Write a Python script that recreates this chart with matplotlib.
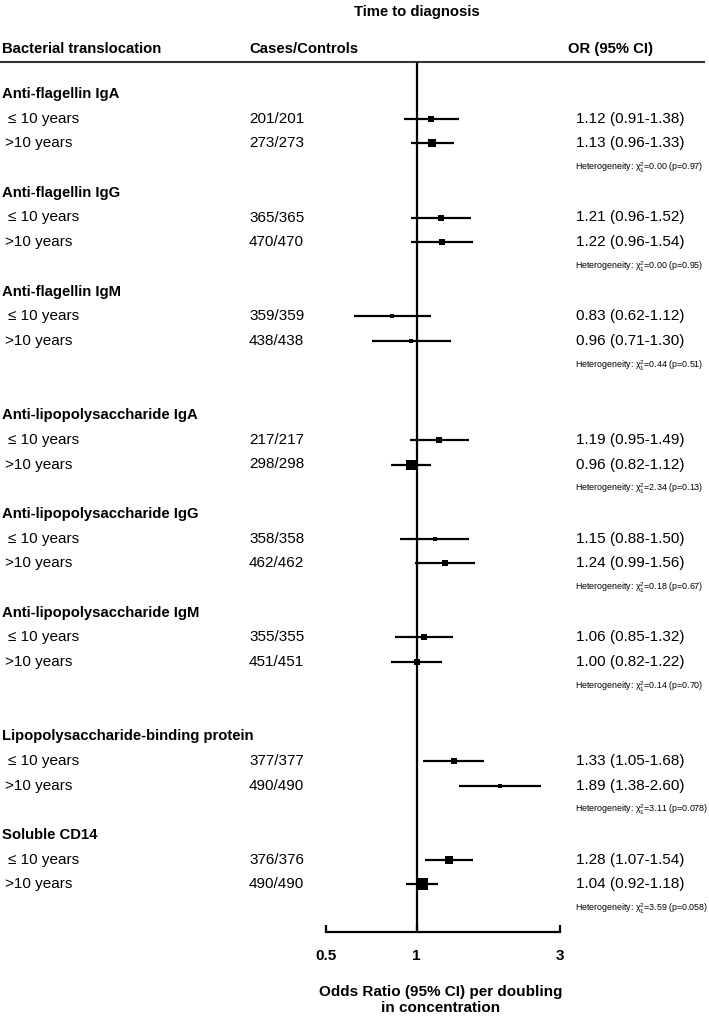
import numpy as np
import matplotlib
matplotlib.use("Agg")
import matplotlib.pyplot as plt

plt.rcParams['font.family'] = ['Liberation Sans', 'DejaVu Sans']
plt.rcParams['mathtext.fontset'] = 'custom'
plt.rcParams['mathtext.rm'] = 'Liberation Sans'
plt.rcParams['mathtext.it'] = 'Liberation Sans:italic'

# ---------------- data ----------------
groups = ["Anti-flagellin IgA", "Anti-flagellin IgG", "Anti-flagellin IgM",
          "Anti-lipopolysaccharide IgA", "Anti-lipopolysaccharide IgG",
          "Anti-lipopolysaccharide IgM", "Lipopolysaccharide-binding protein",
          "Soluble CD14"]
sub_labels = ["\u2264 10 years", ">10 years"]
cases_le10 = ["201/201", "365/365", "359/359", "217/217", "358/358", "355/355", "377/377", "376/376"]
cases_gt10 = ["273/273", "470/470", "438/438", "298/298", "462/462", "451/451", "490/490", "490/490"]
or_le10 = [1.12, 1.21, 0.83, 1.19, 1.15, 1.06, 1.33, 1.28]
lo_le10 = [0.91, 0.96, 0.62, 0.95, 0.88, 0.85, 1.05, 1.07]
hi_le10 = [1.38, 1.52, 1.12, 1.49, 1.50, 1.32, 1.68, 1.54]
or_gt10 = [1.13, 1.22, 0.96, 0.96, 1.24, 1.00, 1.89, 1.04]
lo_gt10 = [0.96, 0.96, 0.71, 0.82, 0.99, 0.82, 1.38, 0.92]
hi_gt10 = [1.33, 1.54, 1.30, 1.12, 1.56, 1.22, 2.60, 1.18]
chi2 = ["0.00", "0.00", "0.44", "2.34", "0.18", "0.14", "3.11", "3.59"]
pvals = ["0.97", "0.95", "0.51", "0.13", "0.67", "0.70", "0.078", "0.058"]
x_ticks = [0.5, 1, 3]
x_ticklabels = ["0.5", "1", "3"]

# ---------------- layout ----------------
W, H = 709, 1019
PITCH = 24.7      # px per row
Y0 = 94.0         # px of first row
gap_after = {2, 5}

def px2row(py):
    return (py - Y0) / PITCH

# row indices for group starts
starts = []
r = 0
for i in range(len(groups)):
    starts.append(r)
    r += 4
    if i in gap_after:
        r += 1

fig = plt.figure(figsize=(W / 100, H / 100), dpi=100)
tx = fig.add_axes([0, 0, 1, 1])
tx.set_xlim(0, W)
tx.set_ylim(px2row(H), px2row(0))
tx.axis('off')

AX_L, AX_R, AX_T, AX_B = 326, 560, 62, 932
fa = fig.add_axes([AX_L / W, 1 - AX_B / H, (AX_R - AX_L) / W, (AX_B - AX_T) / H])
fa.set_xscale('log')
fa.set_xlim(0.5, 3)
fa.set_ylim(px2row(AX_B), px2row(AX_T))
fa.patch.set_alpha(0)
for s in ['top', 'left', 'right']:
    fa.spines[s].set_visible(False)
fa.spines['bottom'].set_linewidth(1.6)
fa.set_yticks([])
fa.set_xticks(x_ticks)
fa.set_xticklabels(x_ticklabels, fontsize=11, fontweight='bold')
fa.xaxis.set_minor_locator(matplotlib.ticker.NullLocator())
fa.tick_params(axis='x', direction='in', length=5, width=1.6, pad=12)
fa.axvline(1, color='black', lw=1.6, zorder=1)

# header
BOLD = dict(fontsize=10.7, fontweight='bold', va='center')
REG = dict(fontsize=11, va='center')
tx.text(416.7, px2row(12), "Time to diagnosis", ha='center', **BOLD)
tx.text(2, px2row(49), "Bacterial translocation", ha='left', **BOLD)
tx.text(249, px2row(49), "Cases/Controls", ha='left', **BOLD)
tx.text(568, px2row(49), "OR (95% CI)", ha='left', **BOLD)
tx.plot([0, 705], [px2row(62)] * 2, color='#333333', lw=1.5, solid_capstyle='butt')

def box_size(lo, hi):
    w = np.log(hi / lo)
    return 2.11 / w ** 1.25 * 0.72  # points

for i, g in enumerate(groups):
    r0 = starts[i]
    tx.text(2, r0, g, ha='left', **BOLD)
    rows = [r0 + 1, r0 + 2]
    ors = [or_le10[i], or_gt10[i]]
    los = [lo_le10[i], lo_gt10[i]]
    his = [hi_le10[i], hi_gt10[i]]
    cs = [cases_le10[i], cases_gt10[i]]
    for k in range(2):
        tx.text(8 if k == 0 else 5, rows[k], sub_labels[k], ha='left', **REG)
        tx.text(249, rows[k], cs[k], ha='left', **REG)
        tx.text(576, rows[k], f"{ors[k]:.2f} ({los[k]:.2f}-{his[k]:.2f})", ha='left', **REG)
        fa.plot([los[k], his[k]], [rows[k]] * 2, color='black', lw=1.6,
                solid_capstyle='butt', zorder=2)
        fa.plot([ors[k]], [rows[k]], marker='s', color='black', mew=0,
                ms=box_size(los[k], his[k]), zorder=3)
    tx.text(575, r0 + 3, "Heterogeneity: \u03c7$^2_1$=" + chi2[i] + " (p=" + pvals[i] + ")",
            ha='left', fontsize=6.4, va='center')

tx.text(441, px2row(1000), "Odds Ratio (95% CI) per doubling\nin concentration",
        ha='center', va='center', fontsize=11, fontweight='bold', linespacing=1.2)

fig.savefig("out.png", dpi=100)
